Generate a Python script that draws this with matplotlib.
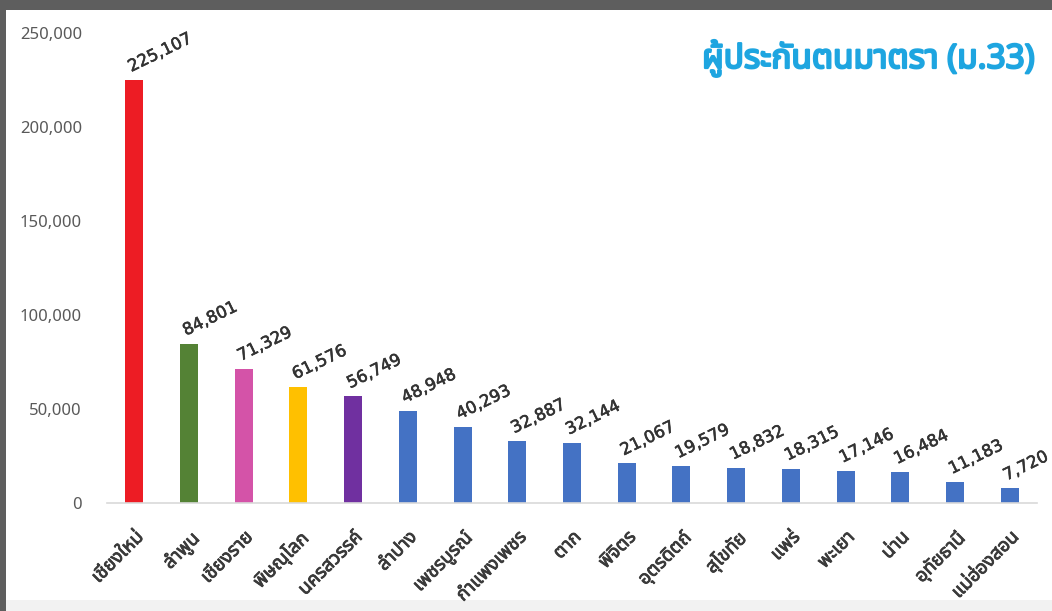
#!/usr/bin/env python3
"""ผู้ประกันตนมาตรา 33 รายจังหวัด - กราฟแท่ง"""

import matplotlib
matplotlib.use("Agg")
import matplotlib.pyplot as plt
import matplotlib.patheffects as pe
from matplotlib import font_manager, ft2font
from matplotlib.patches import Rectangle
from matplotlib.ticker import FuncFormatter

provinces = [
    "เชียงใหม่", "ลำพูน", "เชียงราย", "พิษณุโลก", "นครสวรรค์", "ลำปาง",
    "เพชรบูรณ์", "กำแพงเพชร", "ตาก", "พิจิตร", "อุตรดิตถ์", "สุโขทัย",
    "แพร่", "พะเยา", "น่าน", "อุทัยธานี", "แม่ฮ่องสอน",
]
insured = [
    225107, 84801, 71329, 61576, 56749, 48948, 40293, 32887, 32144,
    21067, 19579, 18832, 18315, 17146, 16484, 11183, 7720,
]
bar_colors = ["#ED1C24", "#548235", "#D453A8", "#FFC000", "#7030A0"] + ["#4472C4"] * 12
y_ticks = [0, 50000, 100000, 150000, 200000, 250000]
TITLE = "ผู้ประกันตนมาตรา (ม.33)"


def find_thai_family() -> str | None:
    preferred = ["Noto Sans Thai", "Noto Sans Thai Looped", "Sarabun", "Loma",
                 "Garuda", "Waree", "Tlwg Typo", "Kinnari", "Norasi"]
    found = {}
    for f in font_manager.fontManager.ttflist:
        try:
            cmap = ft2font.FT2Font(f.fname).get_charmap()
        except Exception:
            continue
        if ord("ก") in cmap:
            found[f.name] = f.fname
    for name in preferred:
        if name in found:
            return name
    return next(iter(found), None)


thai = find_thai_family()
families = ([thai] if thai else []) + ["DejaVu Sans"]
plt.rcParams["font.family"] = families

fig = plt.figure(figsize=(10.52, 6.11), dpi=100)
fig.patch.set_facecolor("#5E5E5E")
# กรอบพื้นขาวของภาพหน้าจอ
fig.add_artist(Rectangle((6 / 1052, 0), 1, 1 - 10 / 611, transform=fig.transFigure,
                         facecolor="white", edgecolor="none", zorder=0))
fig.add_artist(Rectangle((6 / 1052, 0), 1, 11 / 611, transform=fig.transFigure,
                         facecolor="#F2F2F2", edgecolor="none", zorder=0))

ax = fig.add_axes([107 / 1052, 108 / 611, 930 / 1052, 470 / 611])
ax.set_facecolor("none")
x = list(range(len(provinces)))
ax.bar(x, insured, width=0.33, color=bar_colors, zorder=2)

for xi, v in zip(x, insured):
    t = ax.annotate(f"{v:,}", (xi, v), xytext=(-1, 3), textcoords="offset points",
                    rotation=26, rotation_mode="anchor", ha="left", va="bottom",
                    fontsize=12, color="#333333", family=["DejaVu Sans"])
    t.set_path_effects([pe.withStroke(linewidth=0.4, foreground="#333333")])

ax.set_xlim(-0.5, len(provinces) - 0.5)
ax.set_ylim(0, 250000)
ax.set_yticks(y_ticks)
ax.yaxis.set_major_formatter(FuncFormatter(lambda v, _: f"{int(v):,}"))
ax.tick_params(axis="y", length=0, pad=18, labelsize=12, labelcolor="#595959")
ax.set_xticks(x)
labels = ax.set_xticklabels(provinces, rotation=45, ha="right", va="top",
                            rotation_mode="anchor", fontsize=13.5,
                            color="#3A3A3A")
for lb in labels:
    lb.set_path_effects([pe.withStroke(linewidth=0.6, foreground="#3A3A3A")])
ax.tick_params(axis="x", length=0, pad=18)
for side in ["top", "right", "left"]:
    ax.spines[side].set_visible(False)
ax.spines["bottom"].set_color("#D9D9D9")
ax.spines["bottom"].set_linewidth(1.2)

title = fig.text(1035 / 1052, 1 - 58 / 611, TITLE, ha="right", va="center",
                 fontsize=24, color="#1EA5E0")
title.set_path_effects([pe.withStroke(linewidth=1.6, foreground="#1EA5E0")])

fig.savefig("out.png", dpi=100, facecolor=fig.get_facecolor())
